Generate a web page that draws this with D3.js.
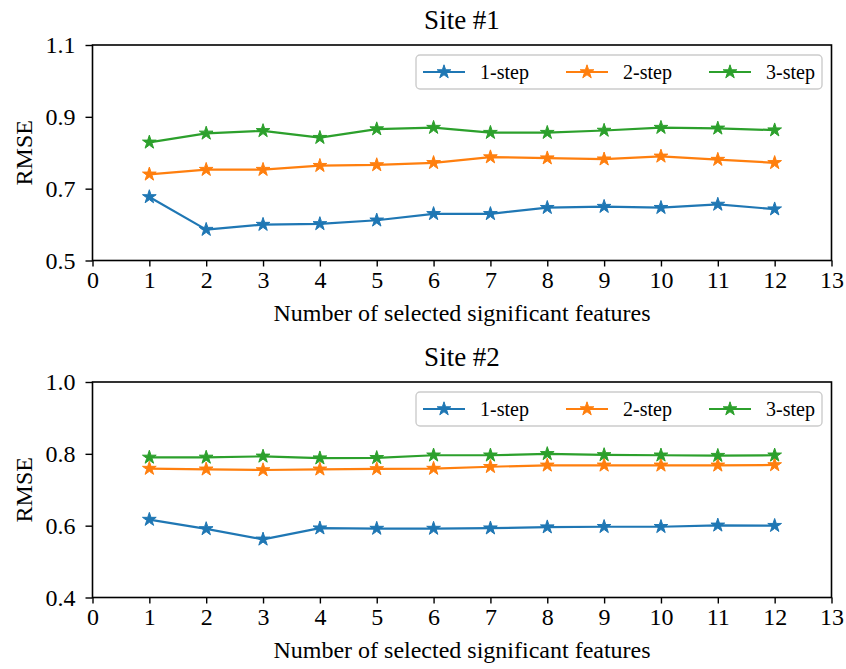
<!DOCTYPE html>
<html><head><meta charset="utf-8">
<script src="https://cdn.jsdelivr.net/npm/d3@7"></script>
<style>
html,body{margin:0;padding:0;background:#fff;}
text{font-family:"Liberation Serif","Times New Roman",serif;fill:#000;}
</style></head>
<body>
<svg id="chart" width="846" height="669"></svg>
<script>
const features = [1,2,3,4,5,6,7,8,9,10,11,12];
const seriesNames = ["1-step","2-step","3-step"];
const seriesColors = ["#1f77b4","#ff7f0e","#2ca02c"];
const xTicks = [0,1,2,3,4,5,6,7,8,9,10,11,12,13];
const site1Title = "Site #1";
const site1YTicks = [0.5,0.7,0.9,1.1];
const site1Step1 = [0.677,0.586,0.600,0.602,0.612,0.630,0.630,0.647,0.650,0.647,0.656,0.643];
const site1Step2 = [0.740,0.753,0.753,0.764,0.766,0.772,0.788,0.785,0.782,0.790,0.781,0.772];
const site1Step3 = [0.829,0.854,0.861,0.842,0.866,0.870,0.856,0.856,0.862,0.870,0.868,0.863];
const site2Title = "Site #2";
const site2YTicks = [0.4,0.6,0.8,1.0];
const site2Step1 = [0.617,0.591,0.562,0.593,0.592,0.592,0.593,0.596,0.597,0.597,0.601,0.600];
const site2Step2 = [0.759,0.757,0.755,0.757,0.758,0.759,0.764,0.768,0.768,0.768,0.768,0.769];
const site2Step3 = [0.790,0.790,0.793,0.788,0.789,0.796,0.796,0.800,0.797,0.796,0.795,0.796];
const xLabel = "Number of selected significant features";
const yLabel = "RMSE";

const svg = d3.select("#chart");
const left = 92.5, right = 831.5;
const panels = [
  {title: site1Title, yTicks: site1YTicks, series:[site1Step1,site1Step2,site1Step3], top:45, bottom:260.5},
  {title: site2Title, yTicks: site2YTicks, series:[site2Step1,site2Step2,site2Step3], top:382, bottom:597.5}
];
const FONT = 24;
const star = d3.symbol().type(d3.symbolStar).size(7.2*7.2/0.8908130915292852);

panels.forEach(p => {
  const g = svg.append("g");
  const x = d3.scaleLinear().domain([0,13]).range([left,right]);
  const y = d3.scaleLinear().domain([p.yTicks[0], p.yTicks[p.yTicks.length-1]]).range([p.bottom,p.top]);

  // lines
  p.series.forEach((vals,i) => {
    const data = features.map((f,k)=>[f,vals[k]]);
    g.append("path").datum(data)
      .attr("fill","none").attr("stroke",seriesColors[i]).attr("stroke-width",2.2)
      .attr("stroke-linejoin","round")
      .attr("d", d3.line().x(d=>x(d[0])).y(d=>y(d[1])));
    g.selectAll(null).data(data).enter().append("path")
      .attr("d", star)
      .attr("transform", d=>`translate(${x(d[0])},${y(d[1])})`)
      .attr("fill",seriesColors[i]).attr("stroke",seriesColors[i]).attr("stroke-width",1);
  });

  // axes
  const xa = g.append("g").attr("transform",`translate(0,${p.bottom})`)
    .call(d3.axisBottom(x).tickValues(xTicks).tickFormat(d3.format("d")).tickSize(6).tickPadding(4));
  const ya = g.append("g").attr("transform",`translate(${left},0)`)
    .call(d3.axisLeft(y).tickValues(p.yTicks).tickFormat(d3.format(".1f")).tickSize(7).tickPadding(10));
  [xa,ya].forEach(a=>{
    a.select(".domain").remove();
    a.selectAll("line").attr("stroke","#000").attr("stroke-width",1.4);
    a.selectAll("text").attr("font-size",FONT).attr("font-family","Liberation Serif").attr("fill","#000");
  });
  xa.selectAll("text").attr("dy","0.71em");
  // frame
  g.append("rect").attr("x",left).attr("y",p.top).attr("width",right-left).attr("height",p.bottom-p.top)
    .attr("fill","none").attr("stroke","#000").attr("stroke-width",1.6);

  // title
  g.append("text").attr("x",(left+right)/2).attr("y",p.top-16).attr("text-anchor","middle")
    .attr("font-size",27).text(p.title);
  // x label
  g.append("text").attr("x",(left+right)/2).attr("y",p.bottom+60).attr("text-anchor","middle")
    .attr("font-size",FONT).text(xLabel);
  // y label
  g.append("text").attr("transform",`translate(32,${(p.top+p.bottom)/2}) rotate(-90)`)
    .attr("text-anchor","middle").attr("font-size",FONT).text(yLabel);

  // legend
  const lg = g.append("g").attr("transform",`translate(416,${p.top+10})`);
  lg.append("rect").attr("x",0).attr("y",0).attr("width",406).attr("height",34).attr("rx",4)
    .attr("fill","#fff").attr("fill-opacity",0.8).attr("stroke","#cccccc").attr("stroke-width",1.4);
  seriesNames.forEach((name,i)=>{
    const ox = 7 + i*143;
    const cy = 17;
    lg.append("line").attr("x1",ox).attr("x2",ox+42).attr("y1",cy).attr("y2",cy)
      .attr("stroke",seriesColors[i]).attr("stroke-width",2.2);
    lg.append("path").attr("d",star).attr("transform",`translate(${ox+21},${cy})`)
      .attr("fill",seriesColors[i]).attr("stroke",seriesColors[i]).attr("stroke-width",1);
    lg.append("text").attr("x",ox+57).attr("y",cy).attr("dy","0.35em").attr("font-size",20).text(name);
  });
});
</script>
</body></html>
